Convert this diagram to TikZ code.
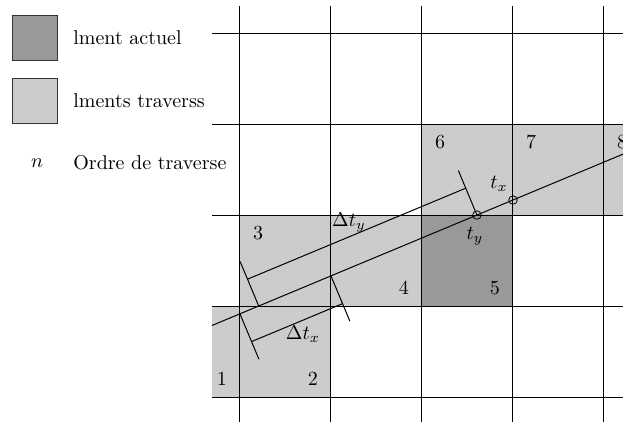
\documentclass[tikz,border=0pt]{standalone}
\begin{document}
\begin{tikzpicture}[x=1.6cm,y=1.6cm,
  travfill/.style={fill=black!20},
  curfill/.style={fill=black!40},
  gridline/.style={draw=black, line width=0.5pt},
  rayline/.style={draw=black, line width=0.5pt},
  legbox/.style={draw=black!80, minimum size=0.8cm, inner sep=0pt},
  legtext/.style={anchor=west, inner sep=0pt},
  numlab/.style={inner sep=0pt},
  hit/.style={circle, draw=black, minimum size=0.15cm, inner sep=0pt}]
\useasboundingbox (-2.637,-0.286) rectangle (4.209,4.363);
% shaded cells
\fill[travfill] (-0.308,0) rectangle (1,1);
\fill[travfill] (0,1) rectangle (2,2);
\fill[curfill] (2,1) rectangle (3,2);
\fill[travfill] (2,2) rectangle (4.3,3);
% grid
\foreach \x in {0,...,4} \draw[gridline] (\x,-0.275) -- (\x,4.297);
\foreach \y in {0,...,4} \draw[gridline] (-0.308,\y) -- (4.3,\y);
% cell numbers
\node[numlab] (n1) at (-0.2,0.2) {1};
\node[numlab] (n2) at (0.8,0.2) {2};
\node[numlab] (n3) at (0.2,1.8) {3};
\node[numlab] (n4) at (1.8,1.2) {4};
\node[numlab] (n5) at (2.8,1.2) {5};
\node[numlab] (n6) at (2.2,2.8) {6};
\node[numlab] (n7) at (3.2,2.8) {7};
\node[numlab] (n8) at (4.2,2.8) {8};
% ray
\coordinate (r0) at (-0.308,0.786);
\coordinate (r1) at (4.3,2.707);
\draw[rayline] (r0) -- (r1);
% delta t_x construction
\coordinate (A) at (0,0.914);
\coordinate (B) at (1,1.331);
\coordinate (A1) at (0.208,0.416);
\coordinate (B1) at (1.208,0.833);
\coordinate (A2) at (0.127,0.609);
\coordinate (B2) at (1.127,1.026);
\draw[rayline] (A) -- (A1);
\draw[rayline] (B) -- (B1);
\draw[rayline] (A2) -- (B2);
% delta t_y construction
\coordinate (C) at (0.206,1);
\coordinate (D) at (2.604,2);
\coordinate (C1) at (0.002,1.489);
\coordinate (D1) at (2.40,2.489);
\coordinate (C2) at (0.083,1.295);
\coordinate (D2) at (2.481,2.295);
\draw[rayline] (C) -- (C1);
\draw[rayline] (D) -- (D1);
\draw[rayline] (C2) -- (D2);
% hit points
\node[hit] (ty) at (2.604,2) {};
\node[hit] (tx) at (3,2.165) {};
% labels
\node (ltx) at (2.846,2.341) {$t_x$};
\node (lty) at (2.582,1.769) {$t_y$};
\node (ldty) at (1.198,1.923) {$\Delta t_y$};
\node (ldtx) at (0.692,0.692) {$\Delta t_x$};
% legend
\node[legbox, curfill] (lg1) at (-2.253,3.945) {};
\node[legbox, travfill] (lg2) at (-2.253,3.253) {};
\node[legtext] (lt1) at (-1.835,3.945) {lment actuel};
\node[legtext] (lt2) at (-1.835,3.253) {lments traverss};
\node (lgn) at (-2.23,2.57) {$n$};
\node[legtext] (lt3) at (-1.835,2.57) {Ordre de traverse};
\end{tikzpicture}
\end{document}
